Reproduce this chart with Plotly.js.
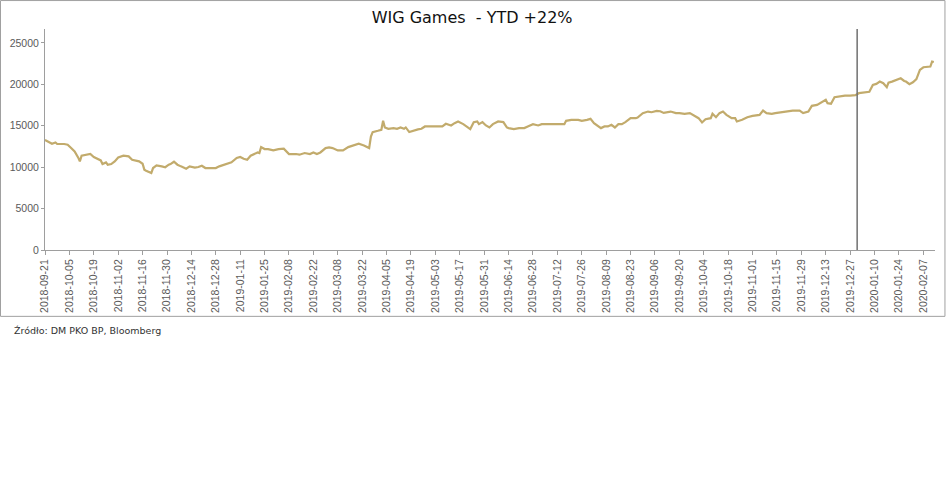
<!DOCTYPE html>
<html>
<head>
<meta charset="utf-8">
<script src="https://cdn.plot.ly/plotly-3.0.1.min.js"></script>
<style>html,body{margin:0;padding:0;background:#fff;}#chart{width:948px;height:495px;}</style>
</head>
<body>
<div id="chart"></div>
<script>
const dates = [
"2018-09-21","2018-09-25","2018-09-27","2018-09-28","2018-10-02","2018-10-04","2018-10-06","2018-10-08","2018-10-10","2018-10-11","2018-10-12","2018-10-15","2018-10-17","2018-10-19","2018-10-22","2018-10-23","2018-10-24","2018-10-26","2018-10-27","2018-10-29","2018-10-31","2018-11-02","2018-11-05","2018-11-08","2018-11-10","2018-11-13","2018-11-14","2018-11-16","2018-11-17","2018-11-18","2018-11-21","2018-11-22","2018-11-24","2018-11-27","2018-11-29","2018-12-01","2018-12-02","2018-12-04","2018-12-06","2018-12-08","2018-12-11","2018-12-13","2018-12-16","2018-12-18","2018-12-20","2018-12-22","2018-12-28","2018-12-30",
"2019-01-02","2019-01-04","2019-01-06","2019-01-09","2019-01-11","2019-01-13","2019-01-15","2019-01-17","2019-01-19","2019-01-21","2019-01-22","2019-01-23","2019-01-25","2019-01-27","2019-01-30","2019-02-02","2019-02-05","2019-02-08","2019-02-12","2019-02-14","2019-02-17","2019-02-20","2019-02-22","2019-02-24","2019-02-26","2019-03-01","2019-03-03","2019-03-05","2019-03-08","2019-03-11","2019-03-14","2019-03-17","2019-03-20","2019-03-23","2019-03-26","2019-03-27","2019-03-28","2019-03-31","2019-04-02","2019-04-03","2019-04-04","2019-04-06","2019-04-09","2019-04-11","2019-04-13","2019-04-15","2019-04-16","2019-04-18","2019-04-20","2019-04-23","2019-04-25","2019-04-27","2019-04-30","2019-05-06","2019-05-07","2019-05-09","2019-05-10","2019-05-12","2019-05-14","2019-05-16","2019-05-19","2019-05-22","2019-05-23","2019-05-25","2019-05-27","2019-05-28","2019-05-30","2019-06-01","2019-06-03","2019-06-05","2019-06-08","2019-06-11","2019-06-13","2019-06-14","2019-06-17","2019-06-20","2019-06-23","2019-06-25","2019-06-28","2019-07-01","2019-07-03","2019-07-07","2019-07-11","2019-07-15","2019-07-16","2019-07-17","2019-07-20","2019-07-24","2019-07-26","2019-07-29","2019-07-31","2019-08-02","2019-08-05","2019-08-06","2019-08-08","2019-08-10","2019-08-12","2019-08-14","2019-08-16","2019-08-18","2019-08-20","2019-08-23","2019-08-26","2019-08-27","2019-08-30","2019-09-02","2019-09-04","2019-09-07","2019-09-09","2019-09-11","2019-09-15","2019-09-18","2019-09-20","2019-09-23","2019-09-26","2019-09-29","2019-10-01","2019-10-03","2019-10-05","2019-10-08","2019-10-09","2019-10-11","2019-10-13","2019-10-15","2019-10-17","2019-10-20","2019-10-22","2019-10-23","2019-10-26","2019-10-29","2019-11-01","2019-11-05","2019-11-07","2019-11-09","2019-11-12","2019-11-14","2019-11-17","2019-11-21","2019-11-24","2019-11-28","2019-11-30","2019-12-03","2019-12-05","2019-12-08","2019-12-10","2019-12-13","2019-12-14","2019-12-16","2019-12-18","2019-12-20","2019-12-22","2019-12-24","2019-12-27","2019-12-30",
"2020-01-01","2020-01-03","2020-01-07","2020-01-09","2020-01-11","2020-01-13","2020-01-15","2020-01-17","2020-01-18","2020-01-20","2020-01-23","2020-01-25","2020-01-27","2020-01-28","2020-01-30","2020-02-01","2020-02-03","2020-02-05","2020-02-07","2020-02-09","2020-02-11","2020-02-12","2020-02-13"
];
const wigGames = [
13300,12830,12990,12800,12800,12720,12310,11900,11180,10700,11390,11500,11590,11230,10990,10820,10380,10580,10300,10380,10700,11180,11390,11310,10900,10700,10700,10420,9700,9580,9300,9900,10220,10100,10000,10300,10380,10660,10300,10100,9820,10100,9950,10020,10180,9900,9900,10100,
10300,10420,10580,11110,11230,11020,10900,11390,11630,11780,11700,12430,12190,12190,12030,12190,12230,11590,11590,11510,11710,11590,11780,11590,11780,12310,12390,12310,12030,12030,12430,12600,12830,12630,12310,13710,14240,14400,14520,15600,14800,14640,14720,14640,14800,14640,14800,14240,14400,14560,14640,14920,14920,14920,14920,15240,15200,15040,15320,15520,15200,14800,14600,15440,15520,15200,15440,15040,14800,15200,15520,15440,14800,14720,14600,14720,14720,14920,15200,15040,15200,15200,15200,15200,15200,15600,15720,15720,15600,15720,15840,15320,14920,14720,14920,14920,15120,14800,15200,15200,15440,15920,15920,16000,16530,16720,16640,16800,16760,16560,16720,16530,16530,16450,16530,16200,15920,15400,15800,15920,16450,16040,16530,16720,16320,15920,15920,15520,15720,16040,16200,16320,16840,16530,16450,16530,16650,16720,16840,16840,16530,16720,17410,17530,17730,18130,17730,17650,18450,18530,18600,18650,18650,18700,
18940,19010,19100,19940,20060,20340,20140,19660,20220,20340,20630,20740,20420,20340,20020,20260,20630,21750,22070,22070,22150,22750,22700
];
const tickLabels = ["2018-09-21","2018-10-05","2018-10-19","2018-11-02","2018-11-16","2018-11-30","2018-12-14","2018-12-28","2019-01-11","2019-01-25","2019-02-08","2019-02-22","2019-03-08","2019-03-22","2019-04-05","2019-04-19","2019-05-03","2019-05-17","2019-05-31","2019-06-14","2019-06-28","2019-07-12","2019-07-26","2019-08-09","2019-08-23","2019-09-06","2019-09-20","2019-10-04","2019-10-18","2019-11-01","2019-11-15","2019-11-29","2019-12-13","2019-12-27","2020-01-10","2020-01-24","2020-02-07"];
const yearEnd = "2019-12-31";
const titleText = "WIG Games  - YTD +22%";
const sourceText = "Źródło: DM PKO BP, Bloomberg";

const trace = {
  x: dates, y: wigGames, type: 'scatter', mode: 'lines',
  line: {color: '#C2AB6C', width: 2.2}, hoverinfo: 'x+y'
};
const layout = {
  width: 948, height: 495,
  margin: {l: 45, r: 13, t: 29, b: 245},
  paper_bgcolor: '#fff', plot_bgcolor: '#fff',
  showlegend: false,
  title: {text: titleText, x: 0.498, xref: 'container', xanchor: 'center', y: 0.964, yref: 'container', yanchor: 'middle',
          font: {family: 'DejaVu Sans', size: 16, color: '#111'}},
  xaxis: {
    type: 'date', range: ['2018-09-21', '2020-02-13 16:00'],
    tickmode: 'array', tickvals: tickLabels, ticktext: tickLabels,
    tickangle: -90, ticks: 'outside', ticklen: 4, tickcolor: '#9e9e9e',
    showline: true, linecolor: '#9e9e9e', linewidth: 1,
    showgrid: false, zeroline: false,
    tickfont: {family: 'Liberation Sans', size: 10.5, color: '#5a5a5a'}
  },
  yaxis: {
    range: [0, 26690], tickmode: 'array', tickvals: [0,5000,10000,15000,20000,25000],
    ticktext: ['0','5000','10000','15000','20000','25000'],
    ticks: 'outside', ticklen: 3, tickcolor: '#9e9e9e',
    showline: true, linecolor: '#9e9e9e', linewidth: 1,
    showgrid: false, zeroline: false,
    tickfont: {family: 'Liberation Sans', size: 10.5, color: '#5a5a5a'}
  },
  shapes: [
    {type: 'line', xref: 'x', yref: 'paper', x0: yearEnd, x1: yearEnd, y0: 0, y1: 1,
     line: {color: '#707070', width: 1.5}},
    {type: 'rect', xref: 'paper', yref: 'paper', x0: -0.0500, x1: 1.0112, y0: -0.3002, y1: 1.1287,
     line: {color: '#a0a0a0', width: 1}, fillcolor: 'rgba(0,0,0,0)'}
  ],
  annotations: [
    {text: sourceText, xref: 'paper', yref: 'paper', x: -0.0371, y: -0.363,
     xanchor: 'left', yanchor: 'middle', showarrow: false,
     font: {family: 'DejaVu Sans', size: 9.5, color: '#333'}}
  ]
};
Plotly.newPlot('chart', [trace], layout, {displayModeBar: false, staticPlot: true});
</script>
</body>
</html>
